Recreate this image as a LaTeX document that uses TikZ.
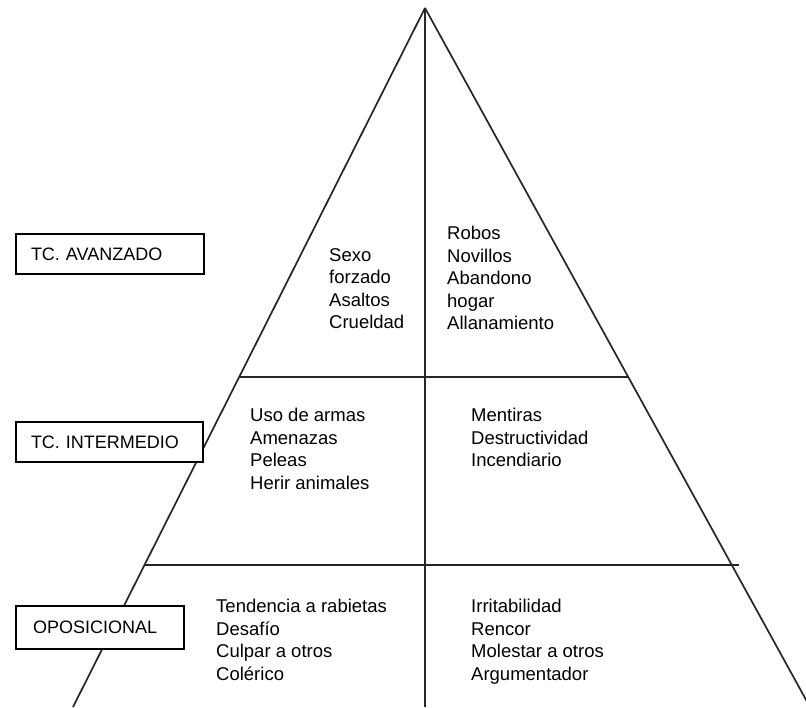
\documentclass[tikz,border=0pt]{standalone}
\usepackage{fontspec}
\setmainfont{Liberation Sans}
\usepackage{tikz}
\usetikzlibrary{calc}

\begin{document}
\begin{tikzpicture}[x=1pt,y=-1pt]
\tikzstyle{edge} =[line width=1.7pt,black!85]
\tikzstyle{level} =[draw,line width=2pt,fill=white,anchor=north west,inner xsep=15pt,inner ysep=0pt,align=left,font=\fontsize{18}{22}\selectfont]
\tikzstyle{items} =[anchor=north west,inner sep=0pt,align=left,font=\fontsize{18.5}{22.5}\selectfont]

\useasboundingbox (0,0) rectangle (806,707);

\coordinate (top) at (425,8);
\coordinate (bl) at (73,707);
\coordinate (br) at (810,707);
\coordinate (bm) at (425,707);

% pyramid
\draw[edge] (top) -- (bl);
\draw[edge] (top) -- (br);
\draw[edge] (top) -- (bm);

\coordinate (l1) at ($(top)!0.528!(bl)$);
\coordinate (r1) at ($(top)!0.528!(br)$);
\coordinate (l2) at ($(top)!0.797!(bl)$);
\coordinate (r2) at ($(top)!0.797!(br)$);
\draw[edge] (l1) -- (r1);
\draw[edge] (l2) -- ($(l2)!1.012!(r2)$);

% levels
\node[level,text width=158pt,minimum height=40pt](avz) at (15,233){TC. AVANZADO};
\node[level,text width=157pt,minimum height=40pt](int) at (15,421){TC. INTERMEDIO};
\node[level,inner xsep=17pt,text width=134pt,minimum height=43pt](opo) at (15,605){OPOSICIONAL};

% behaviours
\node[items](avzl) at (329,248){Sexo\\forzado\\Asaltos\\Crueldad};
\node[items](avzr) at (447,226){Robos\\Novillos\\Abandono\\hogar\\Allanamiento};
\node[items](intl) at (250,408){Uso de armas\\Amenazas\\Peleas\\Herir animales};
\node[items](intr) at (471,408){Mentiras\\Destructividad\\Incendiario};
\node[items](opol) at (216,599){Tendencia a rabietas\\Desafío\\Culpar a otros\\Colérico};
\node[items](opor) at (471,599){Irritabilidad\\Rencor\\Molestar a otros\\Argumentador};
\end{tikzpicture}
\end{document}
